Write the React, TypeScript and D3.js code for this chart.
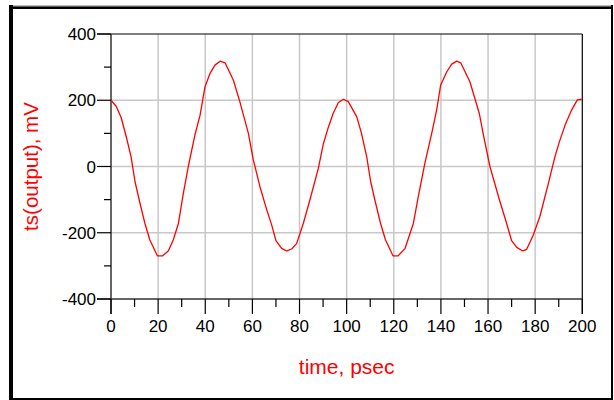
import React from "react";
import * as d3 from "d3";

const times = [
  0, 2.2, 4.3, 6.4, 8.5, 10.2, 12.3, 14.4, 16.5, 19.7, 21.8, 24.3, 26.4, 28.6, 30.7, 32.8, 35.6, 37.8, 39.9,
  42.0, 44.1, 46.3, 48.4, 51.9, 54.7, 58.3, 60.4, 63.2, 66.1, 68.2, 70.0, 72.4, 74.6, 76.7, 78.8, 81.6,
  84.4, 88.0, 90.1, 92.2, 94.3, 96.5, 98.6, 100.7, 104.3, 106.3, 108.5, 110.2, 112.3, 114.4, 116.5, 119.7,
  121.8, 124.8, 128.3, 130.4, 133.2, 136.1, 138.2, 139.9, 142.5, 144.6, 146.7, 148.4, 152.3, 156.3, 157.9,
  160.8, 164.6, 167.9, 170.0, 172.2, 174.7, 176.4, 179.2, 182.0, 185.6, 188.4, 190.3, 192.7, 195.5, 197.9,
  199.7,
];
const values = [
  200, 182, 148, 92, 30, -46, -111, -172, -222, -270, -270, -255, -222, -172, -81, 0, 95, 155, 241,
  281, 306, 318, 313, 261, 195, 100, 20, -61, -131, -177, -224, -247, -255, -249, -232, -172,
  -101, -5, 68, 118, 161, 193, 203, 196, 150, 100, 30, -46, -111, -172, -222, -270,
  -270, -247, -172, -91, 10, 100, 171, 246, 286, 309, 318, 313, 256, 160, 100,
  0, -95, -172, -224, -244, -255, -250, -207, -151, -51, 30, 75, 125, 171, 201,
  203,
];

const xMajorTicks = [0, 20, 40, 60, 80, 100, 120, 140, 160, 180, 200];
const xMinorTicks = [10, 30, 50, 70, 90, 110, 130, 150, 170, 190];
const yMajorTicks = [-400, -200, 0, 200, 400];
const yMinorTicks = [-300, -100, 100, 300];

const xTitle = "time, psec";
const yTitle = "ts(output), mV";

export default function App() {
  const W = 614;
  const H = 400;
  const x = d3.scaleLinear().domain([0, 200]).range([111, 582.3]);
  const y = d3.scaleLinear().domain([-400, 400]).range([299, 34]);
  const pts: [number, number][] = times.map((t, i) => [t, values[i]]);
  const line = d3
    .line<[number, number]>()
    .x((d) => x(d[0]))
    .y((d) => y(d[1]));
  const [x0, x1] = x.range();
  const [y0, y1] = y.range();
  const font = "Arial, 'Liberation Sans', sans-serif";
  const axisColor = "#333";
  return (
    <svg
      width={W}
      height={H}
      style={{ position: "absolute", left: 0, top: 0, background: "#fff" }}
      fontFamily={font}
    >
      {/* outer frame */}
      <rect x={9} y={5} width={604} height={2} fill="#bbb" />
      <rect x={9} y={6.5} width={604} height={2.5} fill="#000" />
      <rect x={9} y={5} width={4} height={395} fill="#000" />
      <rect x={611} y={5} width={2} height={395} fill="#000" />
      <rect x={9} y={398} width={604} height={2} fill="#000" />

      {/* grid */}
      {xMajorTicks
        .filter((t) => t > 0 && t < 200)
        .map((t) => (
          <line key={"gx" + t} x1={x(t)} x2={x(t)} y1={y1} y2={y0} stroke="#c8c8c8" strokeWidth={1.5} />
        ))}
      {yMajorTicks
        .filter((t) => t > -400 && t < 400)
        .map((t) => (
          <line key={"gy" + t} x1={x0} x2={x1} y1={y(t)} y2={y(t)} stroke="#c8c8c8" strokeWidth={1.5} />
        ))}

      {/* plot borders */}
      <line x1={x0 - 14} x2={x1} y1={y1} y2={y1} stroke="#000" strokeWidth={1.2} />
      <line x1={x1} x2={x1} y1={y1} y2={y0 + 15} stroke="#000" strokeWidth={1.2} />
      <line x1={x0} x2={x0} y1={y1} y2={y0 + 15} stroke={axisColor} strokeWidth={1.5} />
      <line x1={x0 - 14} x2={x1} y1={y0} y2={y0} stroke={axisColor} strokeWidth={1.5} />

      {/* ticks */}
      {xMajorTicks.map((t) => (
        <line key={"xt" + t} x1={x(t)} x2={x(t)} y1={y0} y2={y0 + 15} stroke="#000" strokeWidth={1.2} />
      ))}
      {xMinorTicks.map((t) => (
        <line key={"xm" + t} x1={x(t)} x2={x(t)} y1={y0} y2={y0 + 8} stroke="#000" strokeWidth={1.2} />
      ))}
      {yMajorTicks.map((t) => (
        <line key={"yt" + t} x1={x0 - 14} x2={x0} y1={y(t)} y2={y(t)} stroke="#000" strokeWidth={1.2} />
      ))}
      {yMinorTicks.map((t) => (
        <line key={"ym" + t} x1={x0 - 7} x2={x0} y1={y(t)} y2={y(t)} stroke="#000" strokeWidth={1.2} />
      ))}

      {/* tick labels */}
      {xMajorTicks.map((t) => (
        <text key={"xl" + t} x={x(t)} y={332} textAnchor="middle" fontSize={17} fill="#000">
          {t}
        </text>
      ))}
      {yMajorTicks.map((t) => (
        <text key={"yl" + t} x={96} y={y(t) + 6} textAnchor="end" fontSize={17} fill="#000">
          {t}
        </text>
      ))}

      {/* data */}
      <path d={line(pts) ?? ""} fill="none" stroke="#ff0000" strokeWidth={1.3} strokeLinejoin="round" />

      {/* titles */}
      <text x={(x0 + x1) / 2} y={374} textAnchor="middle" fontSize={21} fill="#ff0000">
        {xTitle}
      </text>
      <text
        transform={`translate(38,${(y0 + y1) / 2}) rotate(-90)`}
        textAnchor="middle"
        fontSize={20.5}
        fill="#ff0000"
      >
        {yTitle}
      </text>
    </svg>
  );
}
